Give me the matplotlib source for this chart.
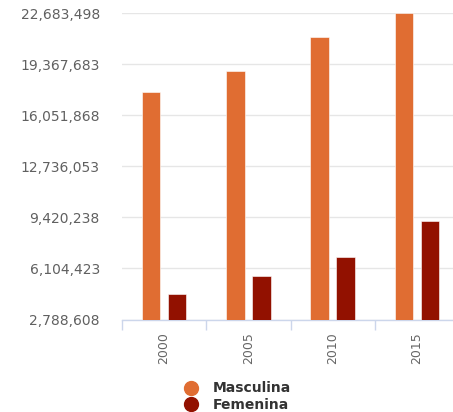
import matplotlib
matplotlib.use("Agg")
import matplotlib.pyplot as plt
from matplotlib.lines import Line2D
import numpy as np

years = ["2000", "2005", "2010", "2015"]
masculina = [17551000, 18954000, 21163000, 22683498]
femenina = [4465000, 5615000, 6830000, 9169000]
yticks = [2788608, 6104423, 9420238, 12736053, 16051868, 19367683, 22683498]
series_names = ["Masculina", "Femenina"]
colors = ["#e06d32", "#921100"]

W, H = 453, 412
fig = plt.figure(figsize=(W / 100, H / 100), dpi=100)
left, right, top, bottom = 122, 459, 13.3, 319.5
ax = fig.add_axes([left / W, 1 - bottom / H, (right - left) / W, (bottom - top) / H])

x = np.arange(len(years))
bw = 0.22
off = 0.155
ax.bar(x - off, masculina, width=bw, color=colors[0], edgecolor="white", linewidth=0.4, zorder=3)
ax.bar(x + off, femenina, width=bw, color=colors[1], edgecolor="white", linewidth=0.4, zorder=3)

ax.set_xlim(-0.5, len(years) - 0.5)
ax.set_ylim(yticks[0], yticks[-1])
ax.set_yticks(yticks)
ax.set_yticklabels([f"{v:,}" for v in yticks], fontsize=10, color="#606060")
ax.yaxis.grid(True, color="#e6e6e6", linewidth=1, zorder=0)
ax.tick_params(axis="y", length=0, pad=16)

ax.set_xticks(x)
ax.set_xticklabels(years, rotation=90, fontsize=9, color="#666666", va="top", ha="center")
ax.set_xticks(np.arange(-0.5, len(years)), minor=True)
ax.tick_params(axis="x", which="major", length=0, pad=9)
ax.tick_params(axis="x", which="minor", length=7, color="#ccd6eb", width=1)

for s in ["top", "right", "left"]:
    ax.spines[s].set_visible(False)
ax.spines["bottom"].set_color("#ccd6eb")
ax.spines["bottom"].set_linewidth(1)

handles = [Line2D([], [], marker="o", linestyle="", markersize=10, markerfacecolor=c, markeredgecolor=c) for c in colors]
leg = fig.legend(handles, series_names, loc="upper left", bbox_to_anchor=(175.5 / W, 1 - 374.5 / H),
                 frameon=False, borderpad=0, handlelength=1.2, handletextpad=0.97, labelspacing=0.2,
                 prop={"size": 10, "weight": "bold"})
for t in leg.get_texts():
    t.set_color("#333333")

fig.savefig("out.png", dpi=100)
